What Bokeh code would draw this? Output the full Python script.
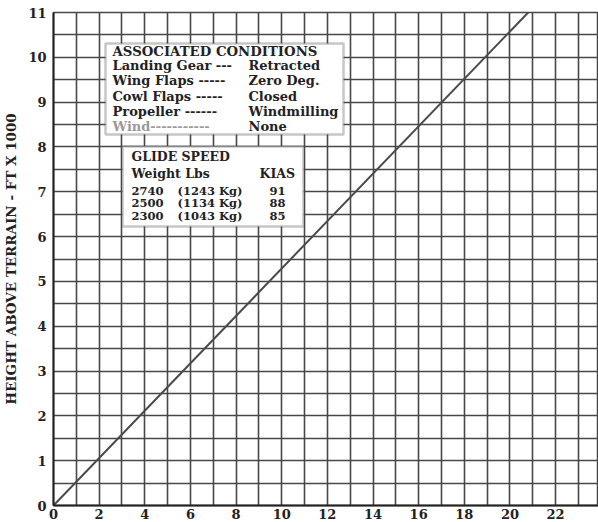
from bokeh.plotting import figure
from bokeh.models import FixedTicker, BoxAnnotation, Label, Range1d
from bokeh.embed import file_html
from bokeh.resources import INLINE

# ---- data ----
glide_distance = [0, 20.8]
height_kft = [0, 11]
x_ticks = [0, 2, 4, 6, 8, 10, 12, 14, 16, 18, 20, 22]
y_ticks = [0, 1, 2, 3, 4, 5, 6, 7, 8, 9, 10, 11]
x_grid = list(range(0, 24))
y_grid = [i * 0.5 for i in range(0, 23)]

conditions_title = "ASSOCIATED CONDITIONS"
conditions_items = ["Landing Gear ---", "Wing Flaps -----", "Cowl Flaps -----",
                    "Propeller ------", "Wind-----------"]
conditions_values = ["Retracted", "Zero Deg.", "Closed", "Windmilling", "None"]

glide_title = "GLIDE SPEED"
weights_lbs = ["2740", "2500", "2300"]
weights_kg = ["(1243 Kg)", "(1134 Kg)", "(1043 Kg)"]
kias = ["91", "88", "85"]

SERIF = "DejaVu Serif"
INK = "#222222"
GRID = "#474747"

p = figure(frame_width=545, frame_height=493, output_backend="svg",
           toolbar_location=None, x_range=Range1d(0, 23.88), y_range=Range1d(0, 11),
           min_border_top=12, min_border_right=0, min_border_left=0, min_border_bottom=0)
p.outline_line_color = GRID
p.outline_line_width = 1.5

# grid
p.xgrid.ticker = FixedTicker(ticks=x_grid)
p.ygrid.ticker = FixedTicker(ticks=y_grid)
for g in (p.xgrid, p.ygrid):
    g.grid_line_color = GRID
    g.grid_line_width = 1.6
    g.grid_line_alpha = 1.0

# axes
p.xaxis.ticker = FixedTicker(ticks=x_ticks)
p.yaxis.ticker = FixedTicker(ticks=y_ticks)
for ax in (p.xaxis, p.yaxis):
    ax.major_tick_out = 0
    ax.major_tick_in = 0
    ax.minor_tick_out = 0
    ax.minor_tick_in = 0
    ax.axis_line_color = INK
    ax.axis_line_width = 2
    ax.major_label_text_font = SERIF
    ax.major_label_text_font_style = "bold"
    ax.major_label_text_font_size = "13px"
    ax.major_label_text_color = INK
p.xaxis.major_label_standoff = 3
p.yaxis.major_label_standoff = 7
p.yaxis.axis_label = "HEIGHT ABOVE TERRAIN - FT X 1000"
p.yaxis.axis_label_text_font = SERIF
p.yaxis.axis_label_text_font_style = "bold"
p.yaxis.axis_label_text_font_size = "13.5px"
p.yaxis.axis_label_text_color = INK
p.yaxis.axis_label_standoff = 6

# glide line
p.line(glide_distance, height_kft, line_color="#4a4a4a", line_width=2)

# annotation helpers (convert screen pixel location in the reference to data units)
def dx(px):
    return (px - 53) / 22.82

def dy(py):
    return (507 - py) / 44.82

# boxes
p.add_layout(BoxAnnotation(left=dx(105), right=dx(343), top=dy(45), bottom=dy(136),
                           fill_color="white", fill_alpha=1.0,
                           line_color="#444444", line_width=2.5))
p.add_layout(BoxAnnotation(left=dx(122), right=dx(303), top=dy(148), bottom=dy(228),
                           fill_color="white", fill_alpha=1.0,
                           line_color="#444444", line_width=2.5))

def lab(x, y, t, size="13px", align="left", color=INK):
    p.add_layout(Label(x=dx(x), y=dy(y), text=t, text_font=SERIF, text_font_size=size,
                       text_font_style="bold",
                       text_baseline="middle", text_align=align, text_color=color))

lab(112, 53, conditions_title, size="13.3px")
rows_y = [67, 82, 98, 113, 128]
for i, (item, val) in enumerate(zip(conditions_items, conditions_values)):
    c = "#9a9a9a" if item.startswith("Wind") else INK
    lab(112, rows_y[i], item, color=c)
    lab(248, rows_y[i], val)

lab(131, 158, glide_title, size="12.5px")
lab(131, 175, "Weight Lbs", size="12.5px")
lab(259, 175, "KIAS", size="12.5px")
wy = [192, 204, 217]
for i in range(3):
    lab(131, wy[i], weights_lbs[i], size="11.5px")
    lab(177, wy[i], weights_kg[i], size="11.5px")
    lab(277, wy[i], kias[i], size="11.5px", align="center")

open("out.html", "w").write(file_html(p, INLINE))
